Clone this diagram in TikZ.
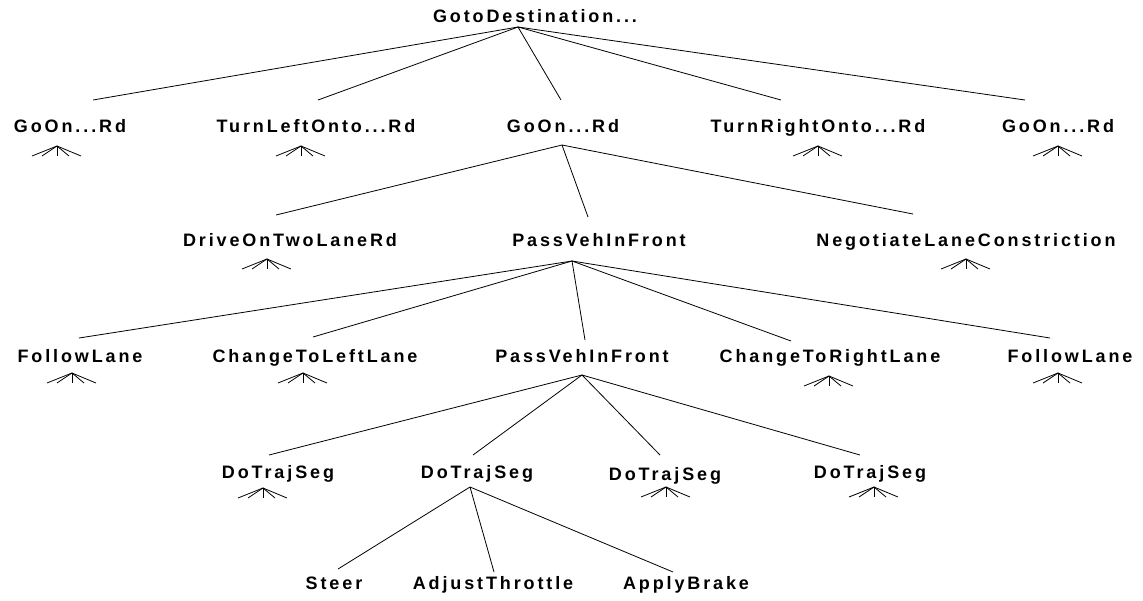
\documentclass[tikz,border=0pt]{standalone}
\usepackage{fontspec}
\newfontfamily\treefont[LetterSpace=16]{Liberation Sans}

\tikzset{
	goal/.style={font=\treefont\fontsize{9}{11}\selectfont\bfseries, inner sep=0pt, anchor=base},
	pics/fan/.style={code={
		\foreach \dx in {-25,-15,0,12,24}
			\draw (0,0) -- (\dx,10);
	}}
}

\begin{document}
\begin{tikzpicture}[x=0.5pt, y=-0.5pt]
	\useasboundingbox (0,0) rectangle (1143,600);

	% top goal
	\node[goal] (g) at (535,22) {GotoDestination...};
	\coordinate (g0) at (518,27);

	% first level
	\node[goal] (on1) at (70,132) {GoOn...Rd};
	\node[goal] (tl) at (316,132) {TurnLeftOnto...Rd};
	\node[goal] (on2) at (563,132) {GoOn...Rd};
	\node[goal] (tr) at (818,132) {TurnRightOnto...Rd};
	\node[goal] (on3) at (1058,132) {GoOn...Rd};
	\coordinate (on1t) at (93,100);
	\coordinate (tlt) at (318,100);
	\coordinate (on2t) at (561,100);
	\coordinate (trt) at (781,100);
	\coordinate (on3t) at (1025,100);
	\coordinate (on2b) at (562,145);

	% second level
	\node[goal] (dr) at (290,246) {DriveOnTwoLaneRd};
	\node[goal] (pv1) at (599,246) {PassVehInFront};
	\node[goal] (ng) at (966,246) {NegotiateLaneConstriction};
	\coordinate (drt) at (276,215);
	\coordinate (pv1t) at (588,217);
	\coordinate (ngt) at (913,214);
	\coordinate (pv1b) at (572,261);

	% third level
	\node[goal] (fl1) at (80,362) {FollowLane};
	\node[goal] (cl) at (315,362) {ChangeToLeftLane};
	\node[goal] (pv2) at (582,362) {PassVehInFront};
	\node[goal] (cr) at (830,362) {ChangeToRightLane};
	\node[goal] (fl2) at (1070,362) {FollowLane};
	\coordinate (fl1t) at (79,338);
	\coordinate (clt) at (313,337);
	\coordinate (pv2t) at (585,340);
	\coordinate (crt) at (791,341);
	\coordinate (fl2t) at (1050,338);
	\coordinate (pv2b) at (582,375);

	% trajectory segments
	\node[goal] (s1) at (278,478) {DoTrajSeg};
	\node[goal] (s2) at (477,478) {DoTrajSeg};
	\node[goal] (s3) at (665,480) {DoTrajSeg};
	\node[goal] (s4) at (870,478) {DoTrajSeg};
	\coordinate (s1t) at (269,455);
	\coordinate (s2t) at (473,455);
	\coordinate (s3t) at (660,455);
	\coordinate (s4t) at (860,455);
	\coordinate (s2b) at (470,487);

	% actions
	\node[goal] (st) at (334,589) {Steer};
	\node[goal] (th) at (493,589) {AdjustThrottle};
	\node[goal] (br) at (686,589) {ApplyBrake};
	\coordinate (stt) at (338,569);
	\coordinate (tht) at (494,572);
	\coordinate (brt) at (673,572);

	\foreach \c in {on1t,tlt,on2t,trt,on3t}
		\draw (g0) -- (\c);
	\foreach \c in {drt,pv1t,ngt}
		\draw (on2b) -- (\c);
	\foreach \c in {fl1t,clt,pv2t,crt,fl2t}
		\draw (pv1b) -- (\c);
	\foreach \c in {s1t,s2t,s3t,s4t}
		\draw (pv2b) -- (\c);
	\foreach \c in {stt,tht,brt}
		\draw (s2b) -- (\c);

	% collapsed subtrees
	\pic at (57,146) {fan};
	\pic at (301,146) {fan};
	\pic at (818,146) {fan};
	\pic at (1058,146) {fan};
	\pic at (267,259) {fan};
	\pic at (966,259) {fan};
	\pic at (72,373) {fan};
	\pic at (303,373) {fan};
	\pic at (829,376) {fan};
	\pic at (1058,373) {fan};
	\pic at (263,488) {fan};
	\pic at (666,487) {fan};
	\pic at (874,487) {fan};
\end{tikzpicture}
\end{document}
